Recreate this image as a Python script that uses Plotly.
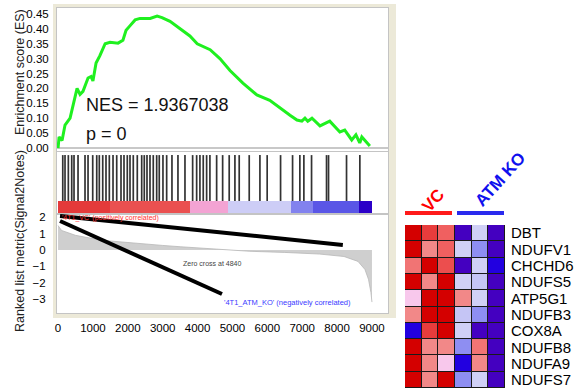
import plotly.graph_objects as go

W, H = 576, 392

# ---------------- data ----------------
es_rank = [0, 30, 115, 200, 345, 430, 545, 630, 715, 860, 945, 1000, 1090, 1200, 1350,
           1490, 1720, 1860, 1950, 2060, 2210, 2350, 2500, 2640, 2840, 2980, 3210, 3500,
           3780, 3990, 4360, 4640, 4930, 5300, 5700, 6070, 6360, 6650, 6850, 6990, 7080,
           7160, 7280, 7510, 7790, 8080, 8220, 8420, 8540, 8650, 8710, 8940]
es_value = [0.0, 0.037, 0.025, 0.077, 0.10, 0.145, 0.20, 0.18, 0.19, 0.235, 0.24, 0.225,
            0.285, 0.31, 0.35, 0.355, 0.352, 0.362, 0.395, 0.41, 0.43, 0.435, 0.435, 0.435,
            0.443, 0.438, 0.425, 0.40, 0.376, 0.35, 0.33, 0.30, 0.26, 0.218, 0.178, 0.16,
            0.134, 0.11, 0.094, 0.09, 0.10, 0.09, 0.10, 0.074, 0.09, 0.054, 0.06, 0.027,
            0.044, 0.017, 0.037, 0.007]

hit_ranks = [135, 200, 295, 392, 458, 573, 773, 860, 994, 1109, 1183, 1281, 1375, 1470,
             1576, 1682, 1805, 1891, 1985, 2063, 2157, 2272, 2398, 2472, 2550, 2636, 2730,
             2828, 2902, 3008, 3114, 3266, 3438, 3639, 3859, 3974, 4068, 4163, 4260, 4354,
             4547, 4719, 4907, 5071, 5194, 5481, 5788, 5996, 6380, 6724, 6933, 7048, 7268,
             7698, 7755, 8271, 8653]

metric_rank = [0, 100, 500, 1000, 1500, 2000, 2500, 3000, 3500, 4000, 4500, 4840, 5500,
               6500, 7500, 8200, 8600, 8800, 8900, 8970, 9000]
metric_value = [1.5, 1.2, 0.9, 0.7, 0.55, 0.45, 0.35, 0.28, 0.2, 0.12, 0.05, 0.0, -0.08,
                -0.15, -0.25, -0.4, -0.7, -1.2, -1.8, -2.6, -3.2]

seg_start = [0, 1500, 3780, 4870, 6680, 7300, 8620]
seg_end = [1500, 3780, 4870, 6680, 7300, 8620, 9000]
seg_color = ["#e43a3a", "#ea5050", "#f3a3d3", "#cdcdf6", "#8282ee", "#5a56e6", "#2b00c8"]

x_ticks = [0, 1000, 2000, 3000, 4000, 5000, 6000, 7000, 8000, 9000]
es_ticks = [0.0, 0.05, 0.10, 0.15, 0.20, 0.25, 0.30, 0.35, 0.40, 0.45]
metric_ticks = [-3, -2, -1, 0, 1, 2]

genes = ["DBT", "NDUFV1", "CHCHD6", "NDUFS5", "ATP5G1", "NDUFB3", "COX8A", "NDUFB8",
         "NDUFA9", "NDUFS7"]
samples = ["VC_1", "VC_2", "VC_3", "KO_1", "KO_2", "KO_3"]
expr = [
    [1.0, 0.8, 0.6, -0.8, -0.2, -0.8],
    [1.0, 0.4, 0.6, -0.2, -0.5, -0.8],
    [0.5, 1.0, 0.7, -0.8, -0.2, -1.0],
    [1.0, 0.4, 1.0, -0.2, -0.25, -0.8],
    [0.1, 1.0, 1.0, 0.4, -0.2, -0.8],
    [0.4, 1.0, 1.0, -0.25, -0.5, -0.8],
    [-1.0, 0.8, 1.0, -0.2, -0.8, -0.8],
    [1.0, 0.4, 0.4, -0.5, 0.5, -0.8],
    [1.0, 0.4, 0.1, -1.0, 0.4, -0.8],
    [1.0, 0.4, 1.0, -0.5, -0.2, -0.8],
]

# decorative pointer lines in ranked-list data coordinates: (x0, y0, x1, y1)
pointer_lines = [(57, 2.09, 8165, 0.31), (57, 1.78, 4700, -2.7)]

# ---------------- layout helpers ----------------
def px_x(p):
    return p / W

def px_y(p):
    return 1 - p / H

SANS = "Liberation Sans, Arial, sans-serif"

x_dom = [px_x(57), px_x(388)]
x_range = [-30, 9460]
es_dom = [px_y(151), px_y(8)]
bc_dom = [px_y(214), px_y(152)]
rk_dom = [px_y(313), px_y(214)]

fig = go.Figure()

# ES curve
fig.add_trace(go.Scatter(x=es_rank, y=es_value, mode="lines",
                         line=dict(color="#1ff01f", width=3), xaxis="x", yaxis="y",
                         showlegend=False, hoverinfo="skip"))

# barcode
bx, by = [], []
for h in hit_ranks:
    bx += [h, h, None]
    by += [0.21, 0.95, None]
fig.add_trace(go.Scatter(x=bx, y=by, mode="lines", line=dict(color="#333333", width=1.7),
                         xaxis="x2", yaxis="y2", showlegend=False, hoverinfo="skip"))

# colour bar
fig.add_trace(go.Bar(x=[(a + b) / 2 for a, b in zip(seg_start, seg_end)],
                     width=[b - a for a, b in zip(seg_start, seg_end)],
                     y=[0.19] * len(seg_start), base=0.02,
                     marker=dict(color=seg_color, line=dict(width=0)),
                     xaxis="x2", yaxis="y2", showlegend=False, hoverinfo="skip"))

# ranked list metric
fig.add_trace(go.Scatter(x=metric_rank, y=metric_value, mode="lines", fill="tozeroy",
                         fillcolor="#cfcfcf", line=dict(color="#b8b8b8", width=0.8),
                         xaxis="x3", yaxis="y3", showlegend=False, hoverinfo="skip"))

# heatmap
cscale = [[0.0, "#2200e0"], [0.1, "#4400c0"], [0.25, "#8e8ef2"], [0.4, "#d0d0f6"],
          [0.55, "#f8c8ec"], [0.7, "#f28888"], [0.8, "#f06060"], [0.9, "#e83c3c"],
          [1.0, "#d40000"]]
fig.add_trace(go.Heatmap(z=expr, x=list(range(len(samples))), y=genes, zmin=-1, zmax=1,
                         colorscale=cscale, showscale=False, xgap=1, ygap=1,
                         xaxis="x4", yaxis="y4", hoverinfo="skip"))

tick_font = dict(family=SANS, size=11.5, color="#000")
frame = dict(showline=True, mirror=True, linecolor="#c4c4c4", linewidth=1,
             showgrid=False, zeroline=False, automargin=False)

fig.update_layout(
    width=W, height=H, margin=dict(l=0, r=0, t=0, b=0, autoexpand=False),
    paper_bgcolor="white", plot_bgcolor="white", showlegend=False,
    xaxis=dict(domain=x_dom, range=x_range, anchor="y", showticklabels=False, ticks="",
               **frame),
    yaxis=dict(domain=es_dom, range=[-0.0101, 0.470], anchor="x",
               tickmode="array", tickvals=es_ticks, tickformat=".2f", ticks="outside",
               ticklen=5, tickcolor="rgba(0,0,0,0)", tickfont=tick_font,
               showline=True, mirror=True, linecolor="#c4c4c4", showgrid=False,
               zeroline=True, zerolinecolor="#c8c8c8", zerolinewidth=1.5,
               automargin=False),
    xaxis2=dict(domain=x_dom, range=x_range, anchor="y2", matches="x",
                showticklabels=False, ticks="", **frame),
    yaxis2=dict(domain=bc_dom, range=[0, 1], anchor="x2",
                showticklabels=False, ticks="", **frame),
    xaxis3=dict(domain=x_dom, range=x_range, anchor="y3", matches="x",
                tickmode="array", tickvals=x_ticks, ticks="outside", ticklen=4,
                tickcolor="rgba(0,0,0,0)", tickfont=tick_font, **frame),
    yaxis3=dict(domain=rk_dom, range=[-3.87, 2.21], anchor="x3",
                tickmode="array", tickvals=metric_ticks, ticks="outside", ticklen=8,
                tickcolor="rgba(0,0,0,0)", tickfont=tick_font, **frame),
    xaxis4=dict(domain=[px_x(405), px_x(505)], range=[-0.5, len(samples) - 0.5],
                anchor="y4", showticklabels=False, ticks="", showgrid=False,
                zeroline=False, automargin=False),
    yaxis4=dict(domain=[px_y(388), px_y(225)], range=[len(genes) - 0.5, -0.5],
                anchor="x4", side="right", tickmode="array", tickvals=genes,
                ticktext=genes, ticks="outside", ticklen=2,
                tickcolor="rgba(0,0,0,0)", showgrid=False, zeroline=False,
                automargin=False,
                tickfont=dict(family=SANS, size=15, color="#000")),
    bargap=0,
)

shapes = [
    # beige frame behind the GSEA panels
    dict(type="rect", xref="paper", yref="paper", x0=px_x(53), x1=px_x(396),
         y0=px_y(318), y1=px_y(4), fillcolor="#ece9d8", line=dict(width=0), layer="below"),
]
for dom in (es_dom, bc_dom, rk_dom):
    shapes.append(dict(type="rect", xref="paper", yref="paper", x0=x_dom[0], x1=x_dom[1],
                       y0=dom[0], y1=dom[1], fillcolor="white", line=dict(width=0),
                       layer="below"))
shapes += [
    # dark grid behind heatmap
    dict(type="rect", xref="x4", yref="y4", x0=-0.5, x1=len(samples) - 0.5,
         y0=-0.5, y1=len(genes) - 0.5, fillcolor="#1a1a1a",
         line=dict(color="#1a1a1a", width=1.5), layer="below"),
    # group bars
    dict(type="line", xref="paper", yref="paper", x0=px_x(405), x1=px_x(452),
         y0=px_y(213), y1=px_y(213), line=dict(color="#ff1a1a", width=4)),
    dict(type="line", xref="paper", yref="paper", x0=px_x(457), x1=px_x(504),
         y0=px_y(213), y1=px_y(213), line=dict(color="#2a2aee", width=4)),
]
for x0, y0, x1, y1 in pointer_lines:
    shapes.append(dict(type="line", xref="x3", yref="y3", x0=x0, y0=y0, x1=x1, y1=y1,
                       line=dict(color="black", width=4)))
fig.update_layout(shapes=shapes)

ann = [
    dict(text="Enrichment score (ES)", xref="paper", yref="paper", x=px_x(20), y=px_y(72),
         xanchor="center", yanchor="middle", textangle=-90, showarrow=False,
         font=dict(family=SANS, size=12.5, color="#222")),
    dict(text="Ranked list metric(Signal2Notes)", xref="paper", yref="paper", x=px_x(20),
         y=px_y(241), xanchor="center", yanchor="middle", textangle=-90, showarrow=False,
         font=dict(family=SANS, size=12.5, color="#222")),
    dict(text="NES = 1.9367038", xref="paper", yref="paper", x=px_x(84), y=px_y(105),
         xanchor="left", yanchor="middle", showarrow=False,
         font=dict(family=SANS, size=18, color="#111")),
    dict(text="p = 0", xref="paper", yref="paper", x=px_x(84), y=px_y(134),
         xanchor="left", yanchor="middle", showarrow=False,
         font=dict(family=SANS, size=18, color="#111")),
    dict(text="Zero cross at 4840", xref="x3", yref="y3", x=4412, y=-0.8, showarrow=False,
         font=dict(family=SANS, size=7, color="#444")),
    dict(text="'4T1_ATM_KO' (negatively correlated)", xref="x3", yref="y3", x=4700,
         y=-3.25, xanchor="left", showarrow=False,
         font=dict(family=SANS, size=7.5, color="#3a3aff")),
    dict(text="'4T1_VC' (positively correlated)", xref="x3", yref="y3", x=60, y=1.95,
         xanchor="left", showarrow=False, font=dict(family=SANS, size=7, color="#ff3333")),
    dict(text="<b>VC</b>", xref="paper", yref="paper", x=px_x(433), y=px_y(200),
         xanchor="center", yanchor="middle", textangle=-48, showarrow=False,
         font=dict(family=SANS, size=17, color="#ff0000")),
    dict(text="<b>ATM KO</b>", xref="paper", yref="paper", x=px_x(500), y=px_y(179),
         xanchor="center", yanchor="middle", textangle=-48, showarrow=False,
         font=dict(family=SANS, size=17, color="#1010ee")),
]
fig.update_layout(annotations=ann)

fig.write_html("out.html")
